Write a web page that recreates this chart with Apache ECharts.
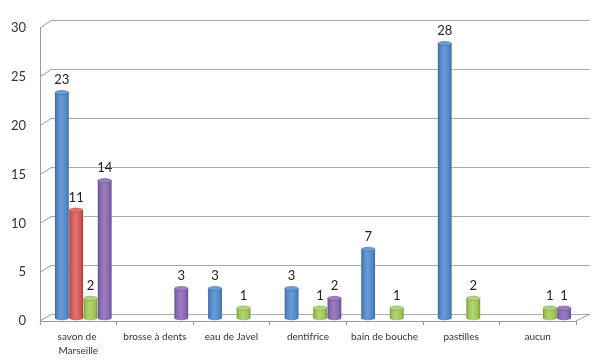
<!DOCTYPE html>
<html><head><meta charset="utf-8">
<script src="https://cdn.jsdelivr.net/npm/echarts@6/dist/echarts.min.js"></script>
<style>html,body{margin:0;padding:0;background:#fff}#c{width:612px;height:363px}</style>
</head><body><div id="c"></div>
<script>
const categories = ['savon de Marseille','brosse à dents','eau de Javel','dentifrice','bain de bouche','pastilles','aucun'];
const blueValues   = [23, 0, 3, 3, 7, 28, 0];
const redValues    = [11, 0, 0, 0, 0, 0, 0];
const greenValues  = [2, 0, 1, 1, 1, 2, 1];
const purpleValues = [14, 3, 0, 2, 0, 0, 1];
const yTicks = [0, 5, 10, 15, 20, 25, 30];

const seriesList = [
  {name:'s1', data: blueValues,   base:'#4F86C6', light:'#6B9BD6', dark:'#3A6598'},
  {name:'s2', data: redValues,    base:'#D2554F', light:'#E0736D', dark:'#A03C37'},
  {name:'s3', data: greenValues,  base:'#9BC155', light:'#B3D474', dark:'#74923C'},
  {name:'s4', data: purpleValues, base:'#8466AE', light:'#9A7FC0', dark:'#604A84'}
];
const FONT = 'Lato, "Open Sans", sans-serif';
const chart = echarts.init(document.getElementById('c'), null, {renderer:'canvas'});

function makeRender(sIdx, s) {
  return function(params, api) {
    const idx = api.value(0), v = api.value(1);
    if (!v) return null;
    const top = api.coord([idx, v]);
    const base = api.coord([idx, 0]);
    const band = api.size([1, 0])[0];
    const barW = band * 0.18;
    const gap = 0.5;
    const groupW = 4 * barW + 3 * gap;
    const x0 = base[0] - groupW / 2 + sIdx * (barW + gap);
    const cx = x0 + barW / 2;
    const ry = 2.2;
    const grad = new echarts.graphic.LinearGradient(0, 0, 1, 0, [
      {offset: 0, color: s.dark}, {offset: 0.14, color: s.base},
      {offset: 0.45, color: s.light}, {offset: 0.85, color: s.base}, {offset: 1, color: s.dark}
    ]);
    return {
      type: 'group',
      children: [
        {type:'ellipse', shape:{cx: cx, cy: base[1], rx: barW/2, ry: ry}, style:{fill: grad}},
        {type:'rect', shape:{x: x0, y: top[1], width: barW, height: base[1]-top[1]}, style:{fill: grad}},
        {type:'ellipse', shape:{cx: cx, cy: top[1], rx: barW/2, ry: ry}, style:{fill: s.light, stroke: s.dark, lineWidth: 0.5}},
        {type:'text', style:{text: String(v), x: cx, y: top[1] - 6, align:'center', verticalAlign:'bottom', fontSize: 13, fill:'#222', fontFamily: FONT}}
      ]
    };
  };
}

const option = {
  animation: false,
  backgroundColor: '#fff',
  grid: [
    {left: 40, right: 36, top: 28, bottom: 42},
    {left: 52, right: 22, top: 20, bottom: 49},
    {left: 45, right: 31, top: 24, bottom: 45}
  ],
  xAxis: [
    {type:'category', gridIndex:0, data: categories,
     axisLine:{lineStyle:{color:'#9a9a9a'}}, axisTick:{show:true, length:4, lineStyle:{color:'#9a9a9a'}},
     axisLabel:{color:'#333', fontSize:10, fontFamily: FONT, margin:9, interval:0, width:74, overflow:'break', lineHeight:14}},
    {type:'category', gridIndex:1, data: categories, show:false},
    {type:'category', gridIndex:2, data: categories, show:false}
  ],
  yAxis: [
    {type:'value', gridIndex:0, min:0, max:30, interval:5,
     axisLine:{show:true, lineStyle:{color:'#9a9a9a'}}, axisTick:{show:false},
     splitLine:{show:false}, axisLabel:{color:'#333', fontSize:13, fontFamily: FONT, margin:14}},
    {type:'value', gridIndex:1, min:0, max:30, interval:5,
     axisLine:{show:false}, axisTick:{show:false}, axisLabel:{show:false},
     splitLine:{show:true, lineStyle:{color:'#ababab', width:1}}},
    {type:'value', gridIndex:2, min:0, max:30, interval:5, show:false, splitLine:{show:false}}
  ],
  series: seriesList.map((s, i) => ({
    type:'custom', name: s.name, xAxisIndex:2, yAxisIndex:2,
    renderItem: makeRender(i, s),
    data: s.data.map((v, k) => [k, v])
  }))
};
chart.setOption(option);

// 3D connectors between the front axis and the back wall, derived from the axes
const lines = [];
yTicks.forEach(t => {
  const yf = chart.convertToPixel({yAxisIndex:0}, t);
  const yb = chart.convertToPixel({yAxisIndex:1}, t);
  lines.push({type:'line', shape:{x1: 40, y1: yf, x2: 52, y2: yb}, style:{stroke:'#9a9a9a', lineWidth:1}});
});
const y0f = chart.convertToPixel({yAxisIndex:0}, 0);
const y0b = chart.convertToPixel({yAxisIndex:1}, 0);
lines.push({type:'line', shape:{x1: 612-36, y1: y0f, x2: 612-22, y2: y0b}, style:{stroke:'#9a9a9a', lineWidth:1}});
chart.setOption({graphic: lines});
</script>
</body></html>
